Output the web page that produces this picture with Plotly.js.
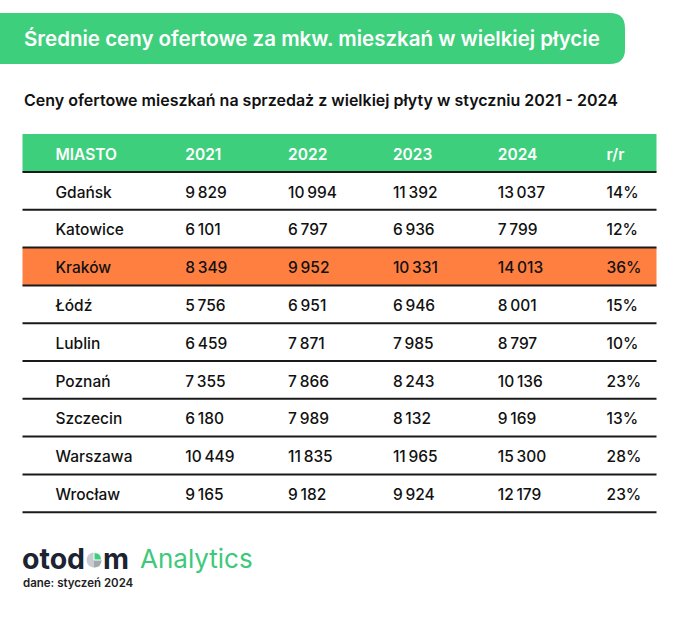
<!DOCTYPE html>
<html>
<head>
<meta charset="utf-8">
<script src="https://cdn.plot.ly/plotly-3.0.1.min.js"></script>
<style>html,body{margin:0;padding:0;background:#fff;}#chart{width:680px;height:626px;}</style>
</head>
<body>
<div id="chart"></div>
<script>
// ---- data ----
const cities = ["Gdańsk","Katowice","Kraków","Łódź","Lublin","Poznań","Szczecin","Warszawa","Wrocław"];
const years = ["2021","2022","2023","2024"];
const price2021 = [9829,6101,8349,5756,6459,7355,6180,10449,9165];
const price2022 = [10994,6797,9952,6951,7871,7866,7989,11835,9182];
const price2023 = [11392,6936,10331,6946,7985,8243,8132,11965,9924];
const price2024 = [13037,7799,14013,8001,8797,10136,9169,15300,12179];
const yoyPct = [14,12,36,15,10,23,13,28,23];
const highlightCity = "Kraków";
const headerLabels = ["MIASTO"].concat(years).concat(["r/r"]);

const titleText = "Średnie ceny ofertowe za mkw. mieszkań w wielkiej płycie";
const subtitleText = "Ceny ofertowe mieszkań na sprzedaż z wielkiej płyty w styczniu 2021 - 2024";
const sourceText = "dane: styczeń 2024";

// ---- layout helpers ----
const W = 680, H = 626;
const px = v => v / W;
const py = v => 1 - v / H;
const GREEN = "#3ecf7c", ORANGE = "#ff7f41", DARK = "#1a1a1a";
const FONT = "Inter, 'Noto Sans', sans-serif";
const CLEAR = "rgba(0,0,0,0)";

const fmt = n => {
  const s = String(n);
  return s.length > 3 ? s.slice(0, s.length - 3) + "\u2009" + s.slice(-3) : s;
};

const tableLeft = 22.5, tableRight = 656.5, tableTop = 134;
const headerH = 38, rowH = 37.8, textShift = 6;
const tableBottom = tableTop + headerH + rowH * cities.length;

const blank = cities.map(() => "");
const columns = [blank, cities, price2021.map(fmt), price2022.map(fmt), price2023.map(fmt), price2024.map(fmt), yoyPct.map(v => v + "%")];

const table = {
  type: "table",
  domain: {x: [px(tableLeft), px(tableRight)], y: [py(tableBottom + textShift), py(tableTop + textShift)]},
  columnwidth: [25, 130, 103, 105, 105, 109, 58],
  header: {
    values: [""].concat(headerLabels),
    align: "left",
    height: headerH,
    fill: {color: CLEAR},
    line: {width: 0, color: CLEAR},
    font: {family: FONT, size: 15.5, color: "#ffffff", weight: 600}
  },
  cells: {
    values: columns,
    align: "left",
    height: rowH,
    fill: {color: CLEAR},
    line: {width: 0, color: CLEAR},
    font: {family: FONT, size: 15.5, color: "#111111", weight: 500}
  }
};

const shapes = [];
const rect = (x0, x1, y0, y1, color, layer) => ({
  type: "rect", xref: "paper", yref: "paper", layer: layer || "below",
  x0: px(x0), x1: px(x1), y0: py(y1), y1: py(y0), fillcolor: color, line: {width: 0}
});
// header band and highlighted row
shapes.push(rect(tableLeft, tableRight, tableTop, tableTop + headerH, GREEN));
const hi = cities.indexOf(highlightCity);
const hiTop = tableTop + headerH + rowH * hi;
shapes.push(rect(tableLeft, tableRight, hiTop, hiTop + rowH, ORANGE));
// separators below header and each row
for (let i = 0; i <= cities.length; i++) {
  const y = tableTop + headerH + rowH * i;
  shapes.push({type: "line", xref: "paper", yref: "paper", layer: "below", x0: px(tableLeft), x1: px(tableRight), y0: py(y), y1: py(y), line: {color: DARK, width: 2}});
}

// title banner (rounded right corners)
const bx0 = -20, bx1 = 625, by0 = 13, by1 = 64, r = 15;
shapes.push({
  type: "path", xref: "paper", yref: "paper", layer: "below", line: {width: 0}, fillcolor: GREEN,
  path: `M ${px(bx0)},${py(by0)} L ${px(bx1 - r)},${py(by0)} Q ${px(bx1)},${py(by0)} ${px(bx1)},${py(by0 + r)} L ${px(bx1)},${py(by1 - r)} Q ${px(bx1)},${py(by1)} ${px(bx1 - r)},${py(by1)} L ${px(bx0)},${py(by1)} Z`
});

// logo pie icon
const cx = 94, cy = 560, cr = 7.5;
shapes.push({type: "circle", xref: "paper", yref: "paper", x0: px(cx - cr), x1: px(cx + cr), y0: py(cy + cr), y1: py(cy - cr), fillcolor: "#c9cdd2", line: {width: 0}});
shapes.push({type: "path", xref: "paper", yref: "paper", fillcolor: "#a3a9b0", line: {width: 0},
  path: `M ${px(cx)},${py(cy)} L ${px(cx + cr)},${py(cy)} Q ${px(cx + cr)},${py(cy + cr)} ${px(cx)},${py(cy + cr)} Z`});
shapes.push({type: "path", xref: "paper", yref: "paper", fillcolor: "#3ecf7c", line: {color: "#ffffff", width: 1},
  path: `M ${px(cx)},${py(cy)} L ${px(cx)},${py(cy - cr)} Q ${px(cx + cr)},${py(cy - cr)} ${px(cx + cr)},${py(cy)} Z`});

const ann = (text, x, y, size, color, weight, anchor) => ({
  text, xref: "paper", yref: "paper", x: px(x), y: py(y), xanchor: anchor || "left", yanchor: "middle",
  showarrow: false, font: {family: FONT, size, color, weight}
});

const annotations = [
  ann(titleText, 22, 39, 20.5, "#ffffff", 600),
  ann(subtitleText, 22, 100, 16, "#111111", 600),
  ann("otod", 20, 558, 28.5, "#1c2331", 700),
  ann("m", 101, 558, 28.5, "#1c2331", 700),
  ann("Analytics", 138, 558, 26, "#3ec97a", 400),
  ann(sourceText, 21, 583, 11.5, "#222222", 600)
];

Plotly.newPlot("chart", [table], {
  width: W, height: H,
  margin: {l: 0, r: 0, t: 0, b: 0},
  paper_bgcolor: "#ffffff",
  shapes, annotations
}, {displayModeBar: false, staticPlot: true});
</script>
</body>
</html>
